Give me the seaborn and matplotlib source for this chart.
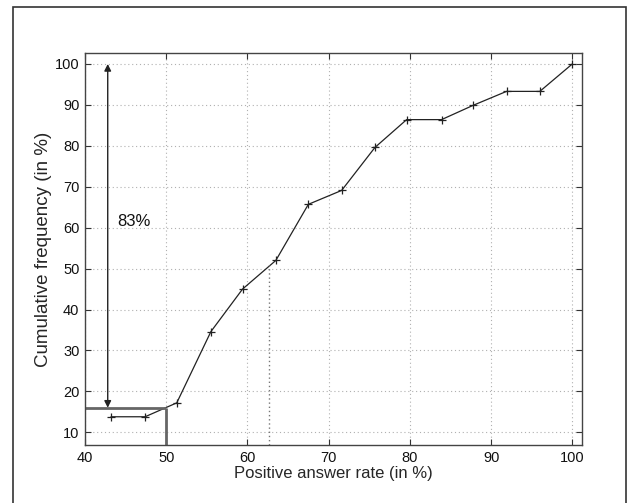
import matplotlib
matplotlib.use("Agg")
import matplotlib.pyplot as plt
import seaborn as sns
import pandas as pd
from matplotlib.patches import Rectangle

# ── Data ────────────────────────────────────────────────────────────────────
rate = [43.2, 47.4, 51.3, 55.5, 59.4, 63.5, 67.5, 71.6, 75.7, 79.6,
        83.9, 87.8, 91.9, 96.0, 100.0]
cum_freq = [13.8, 13.8, 17.2, 34.6, 45.0, 52.0, 65.7, 69.1, 79.6, 86.4,
            86.4, 89.9, 93.3, 93.3, 100.0]
x_ticks = [40, 50, 60, 70, 80, 90, 100]
y_ticks = [10, 20, 30, 40, 50, 60, 70, 80, 90, 100]

threshold_x = 50
threshold_y = 16.0
arrow_x = 42.8
median_x = 62.7
median_y = 51.0

df = pd.DataFrame({"rate": rate, "cum": cum_freq})

# ── Style ───────────────────────────────────────────────────────────────────
sns.set_style("white")
plt.rcParams["font.family"] = ["Liberation Sans", "DejaVu Sans"]

fig = plt.figure(figsize=(6.3, 5.03), dpi=100)
ax = fig.add_axes([0.1349, 0.1153, 0.789, 0.7787])

sns.lineplot(data=df, x="rate", y="cum", ax=ax, color="#222222",
             linewidth=0.9, marker="+", markersize=5.5, markeredgewidth=0.9,
             markeredgecolor="#222222")

ax.set_xlim(40, 101.2)
ax.set_ylim(6.9, 102.6)
ax.set_xticks(x_ticks)
ax.set_yticks(y_ticks)
ax.grid(True, linestyle=(0, (1, 2.5)), color="#b0b0b0", linewidth=0.8)
ax.tick_params(direction="in", length=4, width=0.8, colors="#333333",
               labelsize=10.5, labelcolor="#111111", pad=4,
               top=True, right=True, bottom=True, left=True)
for s in ax.spines.values():
    s.set_color("#444444")
    s.set_linewidth(1.0)

ax.set_xlabel("Positive answer rate (in %)", fontsize=12, labelpad=1)
ax.set_ylabel("Cumulative frequency (in %)", fontsize=13.5, labelpad=2)

# threshold lines
ax.plot([40, threshold_x], [threshold_y, threshold_y], color="#666666",
        linewidth=2.0, solid_capstyle="butt")
ax.plot([threshold_x, threshold_x], [6.9, threshold_y], color="#666666",
        linewidth=2.0, solid_capstyle="butt")
# median dotted line
ax.plot([median_x, median_x], [6.9, median_y], color="#777777",
        linewidth=1.0, linestyle=(0, (1, 2)))

# double arrow
ax.annotate("", xy=(arrow_x, 100), xytext=(arrow_x, threshold_y),
            arrowprops=dict(arrowstyle="<|-|>", color="#222222", lw=1.0,
                            mutation_scale=10, shrinkA=0, shrinkB=0))
ax.text(44.0, 61.5, "83%", fontsize=12, va="center", ha="left",
        color="#111111")

# outer frame
fig.patches.append(Rectangle((13 / 630, -0.01), (626 - 13) / 630,
                             1 - 7 / 503 + 0.01, transform=fig.transFigure,
                             fill=False, edgecolor="#333333", linewidth=1.2))

fig.savefig("out.png", dpi=100)
